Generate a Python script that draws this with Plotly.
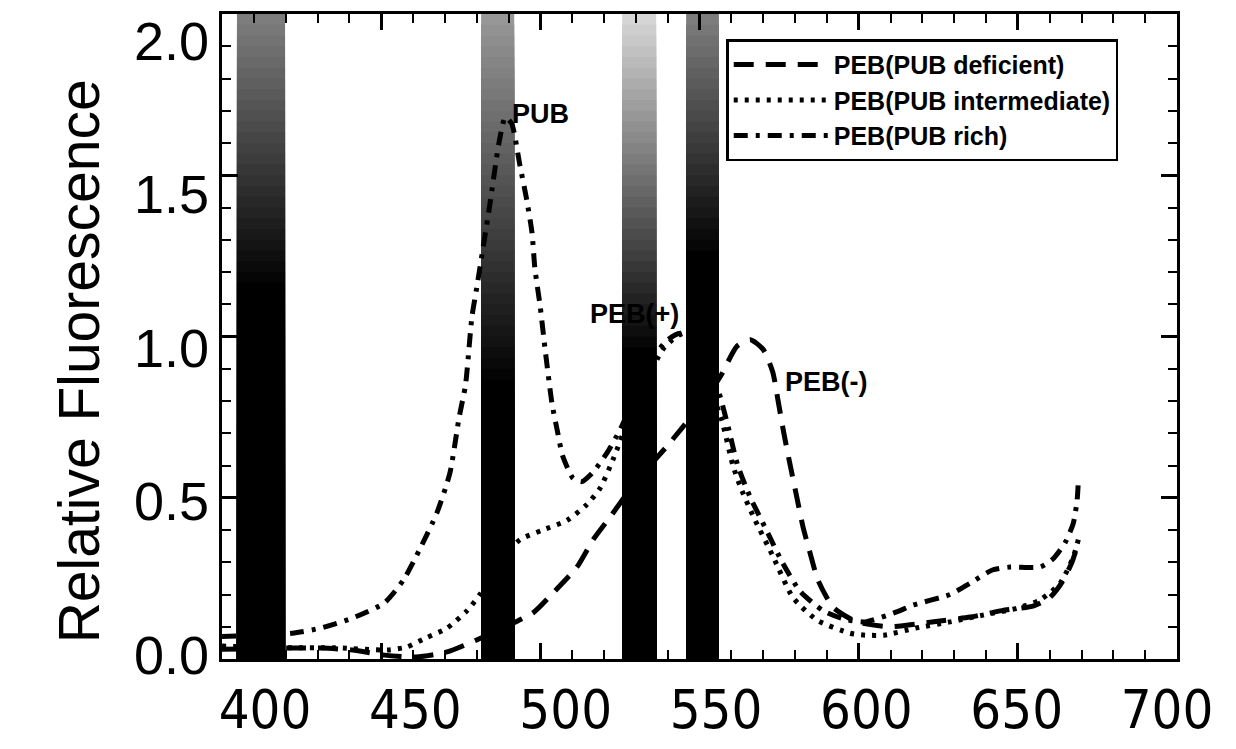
import plotly.graph_objects as go

# ---------------- data ----------------
wl_deficient = [400, 422, 431, 441, 451, 461, 470.7, 480, 489, 497.7, 504, 511.5, 516.6, 521.9, 530,
                539.8, 544.8, 550, 556.5, 561.8, 566, 570, 573, 574.7, 576.5, 578.3, 580.6, 582.5,
                584.7, 587.2, 592, 599.5, 610, 623, 635, 645, 655, 660, 664, 667, 669]
rf_deficient = [0.03, 0.034, 0.034, 0.028, 0.012, 0.006, 0.022, 0.059, 0.10, 0.143, 0.205, 0.285, 0.37, 0.44, 0.55,
                0.66, 0.72, 0.78, 0.875, 0.97, 0.99, 0.96, 0.89, 0.80, 0.70, 0.61, 0.50, 0.41,
                0.33, 0.245, 0.16, 0.115, 0.10, 0.115, 0.13, 0.15, 0.165, 0.19, 0.24, 0.30, 0.36]

wl_intermediate = [400, 422, 435, 452, 458, 464, 470.7, 477, 481, 487, 493.6, 500.8, 508.4, 514.7, 518.8,
                   522.9, 528, 533, 538.5, 541.5, 545, 549, 553, 557, 560.5, 563, 567, 573, 579.4, 587,
                   597.3, 602, 608, 618, 628.7, 639, 650, 657, 663.3, 667.4, 669]
rf_intermediate = [0.04, 0.035, 0.035, 0.028, 0.037, 0.065, 0.096, 0.15, 0.20, 0.30, 0.37, 0.40, 0.43, 0.48, 0.53,
                   0.62, 0.75, 0.86, 0.96, 0.99, 1.01, 0.97, 0.85, 0.74, 0.60, 0.53, 0.44, 0.32, 0.19, 0.12,
                   0.08, 0.074, 0.074, 0.096, 0.115, 0.136, 0.158, 0.183, 0.235, 0.316, 0.37]

wl_rich = [400, 422, 431, 441, 451, 457, 462, 467.5, 471.6, 474.5, 476.5, 478.5, 480, 484, 487, 489, 491,
           493.6, 495.8, 497.4, 498.3, 500, 501.5, 503.7, 505.5, 507, 510.3, 513, 516.6, 521, 525, 530,
           535, 540, 544, 548, 552, 556, 559, 562, 566, 571, 576, 581.6, 588.8, 595, 602, 613, 617,
           628.7, 635, 642, 647.6, 657, 661, 664.8, 667.4, 668.6, 669]
rf_rich = [0.07, 0.08, 0.096, 0.127, 0.174, 0.245, 0.338, 0.453, 0.577, 0.75, 0.85, 1.06, 1.15, 1.40, 1.60, 1.68, 1.66,
           1.53, 1.42, 1.32, 1.21, 1.09, 0.96, 0.79, 0.70, 0.63, 0.56, 0.55, 0.58, 0.64, 0.71, 0.82,
           0.93, 0.99, 1.01, 1.0, 0.93, 0.83, 0.72, 0.60, 0.50, 0.40, 0.30, 0.21, 0.15, 0.125, 0.115, 0.15, 0.167,
           0.20, 0.235, 0.276, 0.285, 0.285, 0.31, 0.36, 0.42, 0.49, 0.55]

series_names = ["PEB(PUB deficient)", "PEB(PUB intermediate)", "PEB(PUB rich)"]

# absorption bands (nm) drawn as shaded vertical strips
band_lo = [404.7, 481.4, 525.7, 545.8]
band_hi = [419.8, 491.8, 536.4, 556.1]
band_top_grey = [0.50, 0.40, 0.15, 0.50]     # darkness at the top of the strip
band_black_from = [1.15, 0.85, 0.95, 1.25]   # strip is solid black below this level

peak_labels = ["PUB", "PEB(+)", "PEB(-)"]
peak_label_x = [500.2, 529.7, 589.8]
peak_label_y = [1.69, 1.07, 0.86]

x_ticks = [400, 450, 500, 550, 600, 650, 700]
y_ticks = [0.0, 0.5, 1.0, 1.5, 2.0]
y_ticktext = ["0.0", "0.5", "1.0", "1.5", "2.0"]

# ---------------- figure ----------------
fig = go.Figure()
styles = ["20px,12px", "4px,7px", "14px,8px,4px,8px"]
for wl, rf, name, dash in zip([wl_deficient, wl_intermediate, wl_rich],
                              [rf_deficient, rf_intermediate, rf_rich], series_names, styles):
    fig.add_trace(go.Scatter(x=wl, y=rf, name=name, mode="lines",
                             line=dict(color="black", width=5, dash=dash, shape="spline", smoothing=0.6)))

# helper (empty) trace so the label axes are drawn
fig.add_trace(go.Scatter(x=[], y=[], xaxis="x2", yaxis="y2", showlegend=False, hoverinfo="skip"))

# bands: nested opaque rectangles -> seamless vertical gradient (grey top, black bottom)
n_seg = 60
ymax = 2.0
for lo, hi, d0, yb in zip(band_lo, band_hi, band_top_grey, band_black_from):
    for i in range(n_seg, 0, -1):
        ytop = ymax * i / n_seg
        ym = ymax * (i - 0.5) / n_seg
        if ym <= yb:
            d = 1.0
        else:
            t = (ym - yb) / (ymax - yb)
            d = 1.0 - t * (1.0 - d0)
        g = int(round(255 * (1.0 - d)))
        fig.add_shape(type="rect", xref="x", yref="y", x0=lo, x1=hi, y0=0, y1=ytop,
                      fillcolor=f"rgb({g},{g},{g})", line=dict(width=0), layer="below")

for txt, lx, ly in zip(peak_labels, peak_label_x, peak_label_y):
    fig.add_annotation(x=lx, y=ly, xref="x", yref="y", text=txt, showarrow=False,
                       font=dict(family="Liberation Sans", size=27, color="black", weight="bold"))

fig.add_annotation(text="Relative Fluorescence", xref="paper", yref="paper",
                   x=-0.185, y=0.462, textangle=-90, showarrow=False,
                   font=dict(family="Liberation Sans", size=57, color="black"))

axis_common = dict(showgrid=False, zeroline=False, showline=True, linecolor="black", linewidth=3,
                   mirror="ticks", ticks="inside", ticklen=16, tickwidth=2.5, tickcolor="black",
                   showticklabels=False, automargin=False)

fig.update_layout(
    width=1236, height=749,
    margin=dict(l=222, r=59, t=14, b=90, autoexpand=False),
    paper_bgcolor="white", plot_bgcolor="white",
    xaxis=dict(range=[400, 700], tickvals=x_ticks,
               minor=dict(dtick=10, ticks="inside", ticklen=9, tickwidth=2, tickcolor="black"),
               **axis_common),
    yaxis=dict(range=[0, 2.0], tickvals=y_ticks,
               minor=dict(dtick=0.1, ticks="inside", ticklen=9, tickwidth=2, tickcolor="black"),
               **axis_common),
    xaxis2=dict(overlaying="x", anchor="y", side="bottom", range=[385.7, 703.3],
                tickvals=x_ticks, ticktext=[str(v) for v in x_ticks], showline=False, showgrid=False,
                zeroline=False, ticks="", ticklabelstandoff=14, automargin=False,
                tickfont=dict(family="DejaVu Sans Condensed, Liberation Sans", size=54, color="black")),
    yaxis2=dict(overlaying="y", anchor="x", side="left", range=[-0.013, 2.088],
                tickvals=y_ticks, ticktext=y_ticktext, showline=False, showgrid=False,
                zeroline=False, ticks="", ticklabelstandoff=12, automargin=False,
                tickfont=dict(family="Liberation Sans", size=54, color="black")),
    legend=dict(x=0.528, y=0.961, xanchor="left", yanchor="top", bgcolor="white",
                bordercolor="black", borderwidth=2.5, itemwidth=95,
                font=dict(family="Liberation Sans", size=25, color="black", weight="bold"),
                tracegroupgap=0),
    showlegend=True,
)

fig.write_html("out.html")
